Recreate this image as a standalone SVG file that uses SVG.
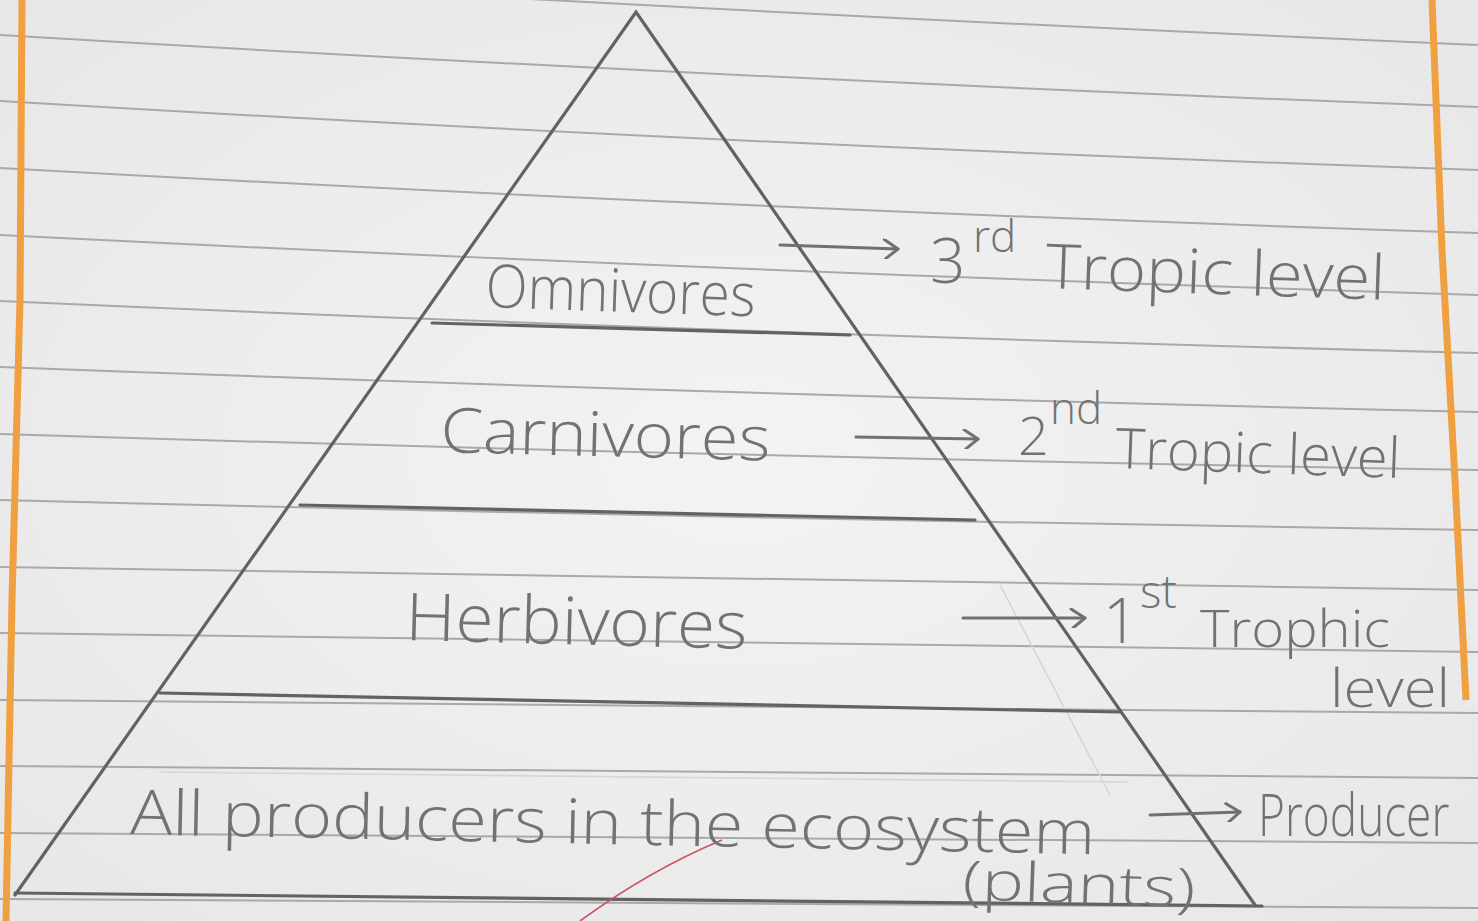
<svg xmlns="http://www.w3.org/2000/svg" width="1478" height="921" viewBox="0 0 1478 921">
<defs>
<marker id="chev" viewBox="0 0 20 20" refX="18" refY="10" markerWidth="20" markerHeight="20" markerUnits="userSpaceOnUse" orient="auto">
<path d="M4,1 L18,10 L6,20" fill="none" stroke="#707070" stroke-width="3" stroke-linecap="round" stroke-linejoin="round"/>
</marker>
<radialGradient id="paper" cx="0.5" cy="0.5" r="0.75">
<stop offset="0" stop-color="#f3f3f3"/>
<stop offset="1" stop-color="#e6e6e6"/>
</radialGradient>
</defs>
<style>
.rule{fill:none;stroke:#a9a9a9;stroke-width:2}
.margin{fill:none;stroke:#f0a040;stroke-width:7}
.pyr{fill:none;stroke:#626262;stroke-width:3.2;stroke-linecap:round}
.faint{fill:none;stroke:#d6d6d6;stroke-width:1.6}
.hand{font-family:"Open Sans","Noto Sans","Liberation Sans",sans-serif;fill:#727272;font-weight:300}
.arrow{fill:none;stroke:#707070;stroke-width:3;stroke-linecap:round}
</style>
<rect x="0" y="0" width="1478" height="921" fill="url(#paper)"/>
<g id="paper-lines">
<path class="rule" d="M0,-31 Q739,13 1478,45"/>
<path class="rule" d="M0,35 Q739,79 1478,107"/>
<path class="rule" d="M0,101 Q739,145 1478,170"/>
<path class="rule" d="M0,168 Q739,209 1478,233"/>
<path class="rule" d="M0,235 Q739,272 1478,295"/>
<path class="rule" d="M0,301 Q739,334 1478,353"/>
<path class="rule" d="M0,367 Q739,395 1478,412"/>
<path class="rule" d="M0,434 Q739,457 1478,470"/>
<path class="rule" d="M0,500 Q739,519 1478,530"/>
<path class="rule" d="M0,567 Q739,581 1478,590"/>
<path class="rule" d="M0,633 Q739,645 1478,652"/>
<path class="rule" d="M0,700 Q739,708 1478,713"/>
<path class="rule" d="M0,766 Q739,774 1478,778"/>
<path class="rule" d="M0,833 Q739,839 1478,843"/>
<path class="rule" d="M0,899 Q739,904 1478,908"/>
<path class="margin" d="M22,0 L20,300 L12,600 L6,921"/>
<path class="margin" d="M1432,0 L1442,250 L1455,480 L1466,700"/>
</g>
<g id="pyramid">
<path class="pyr" d="M15,895 L636,12 L1255,905"/>
<path class="pyr" d="M15,893 L1262,906"/>
<path class="faint" d="M160,772 L1128,782"/>
<path class="faint" d="M1000,585 L1110,795"/>
<path d="M580,921 Q650,870 722,840" fill="none" stroke="#d05060" stroke-width="1.6"/>
</g>
<g id="level-omnivores">
<path class="pyr" d="M432,323 L850,335"/>
<text class="hand" x="485" y="307" font-size="60" textLength="270" lengthAdjust="spacingAndGlyphs" transform="rotate(2 485 307)">Omnivores</text>
</g>
<g id="level-carnivores">
<path class="pyr" d="M300,505 L975,520"/>
<text class="hand" x="440" y="452" font-size="62" textLength="330" lengthAdjust="spacingAndGlyphs" transform="rotate(1.5 440 452)">Carnivores</text>
</g>
<g id="level-herbivores">
<path class="pyr" d="M160,693 L1120,712"/>
<text class="hand" x="405" y="640" font-size="66" textLength="342" lengthAdjust="spacingAndGlyphs" transform="rotate(1.5 405 640)">Herbivores</text>
</g>
<g id="level-producers">
<text class="hand" x="130" y="834" font-size="62" textLength="965" lengthAdjust="spacingAndGlyphs" transform="rotate(1.2 130 834)">All producers in the ecosystem</text>
<text class="hand" x="962" y="899" font-size="54" textLength="233" lengthAdjust="spacingAndGlyphs" transform="rotate(2 962 899)">(plants)</text>
</g>
<g id="connectors">
<path class="arrow" d="M780,245 L898,249" marker-end="url(#chev)"/>
<path class="arrow" d="M856,437 L978,439" marker-end="url(#chev)"/>
<path class="arrow" d="M963,618 L1085,618" marker-end="url(#chev)"/>
<path class="arrow" d="M1150,815 L1240,812" marker-end="url(#chev)"/>
</g>
<g id="label-3rd">
<text class="hand" x="930" y="283" font-size="62">3</text>
<text class="hand" x="973" y="252" font-size="44">rd</text>
<text class="hand" x="1045" y="288" font-size="62" textLength="340" lengthAdjust="spacingAndGlyphs" transform="rotate(2 1045 288)">Tropic level</text>
</g>
<g id="label-2nd">
<text class="hand" x="1018" y="455" font-size="54">2</text>
<text class="hand" x="1050" y="424" font-size="44">nd</text>
<text class="hand" x="1115" y="468" font-size="56" textLength="285" lengthAdjust="spacingAndGlyphs" transform="rotate(2 1115 468)">Tropic level</text>
</g>
<g id="label-1st">
<text class="hand" x="1103" y="643" font-size="62">1</text>
<text class="hand" x="1140" y="608" font-size="46">st</text>
<text class="hand" x="1200" y="647" font-size="52" textLength="190" lengthAdjust="spacingAndGlyphs">Trophic</text>
<text class="hand" x="1330" y="707" font-size="54" textLength="120" lengthAdjust="spacingAndGlyphs">level</text>
</g>
<g id="label-producer">
<text class="hand" x="0" y="0" font-size="46" transform="translate(1258,836) scale(1,1.3)">Producer</text>
</g>
</svg>
